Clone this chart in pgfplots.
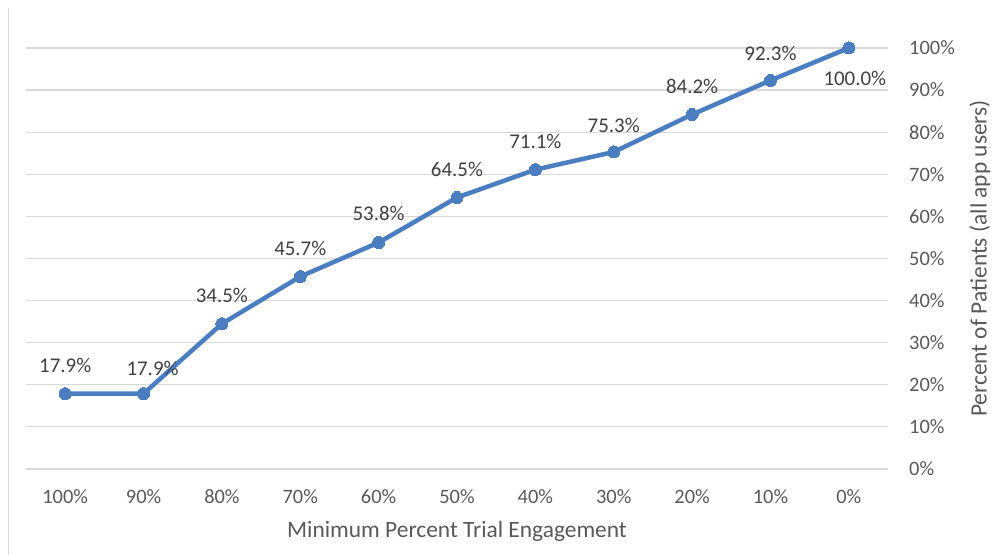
\documentclass[border=0pt]{standalone}
\usepackage{pgfplots}
\pgfplotsset{compat=1.18}
\usepackage{pgfplotstable}
\usepackage{fontspec}
\setmainfont{Carlito}
\definecolor{lineblue}{RGB}{74,126,193}
\definecolor{gridgray}{RGB}{217,217,217}
\definecolor{ticktext}{RGB}{89,89,89}
\definecolor{labeltext}{RGB}{64,64,64}
\pgfplotstableread{
x y lx ly
0 17.9 0 28
1 17.9 9 25
2 34.5 0 28
3 45.7 0 28
4 53.8 0 29
5 64.5 0 28
6 71.1 0 28
7 75.3 0 27
8 84.2 0 28
9 92.3 0 27
10 100.0 6 -30
}\datatable
\begin{document}
\begin{tikzpicture}[x=1bp,y=1bp]
\useasboundingbox (0,0) rectangle (992,555);
\draw[gridgray, line width=1bp] (8,0) -- (8,547);
\begin{axis}[
  at={(26bp,86bp)}, anchor=south west,
  scale only axis, width=862bp, height=421bp,
  xmin=-0.5, xmax=10.5, ymin=0, ymax=100,
  /pgf/number format/assume math mode=true,
  xtick={0,...,10},
  xticklabels={100\%,90\%,80\%,70\%,60\%,50\%,40\%,30\%,20\%,10\%,0\%},
  ytick={0,10,...,100},
  yticklabel={\pgfmathprintnumber{\tick}\%},
  yticklabel pos=right,
  ymajorgrids, grid style={gridgray, line width=1.2bp},
  axis line style={draw=none}, major tick length=0pt,
  tick label style={font=\fontsize{20.5}{24}\selectfont, text=ticktext},
  yticklabel style={anchor=west, inner sep=0pt, xshift=21bp},
  xticklabel style={anchor=center, inner sep=0pt, yshift=-28bp},
  xlabel={Minimum Percent Trial Engagement},
  xlabel style={at={(axis description cs:0.5,-0.1473)}, anchor=center, font=\fontsize{23.5}{28}\selectfont, text=ticktext},
  ylabel={Percent of Patients (all app users)},
  ylabel style={at={(axis description cs:1.1067,0.5)}, anchor=center, font=\fontsize{23.5}{28}\selectfont, text=ticktext},
  clip=false,
]
\addplot[lineblue, line width=4.5bp, mark=*, mark size=6bp,
  mark options={fill=lineblue, draw=lineblue, line width=0pt},
  point meta=y,
  visualization depends on={\thisrow{lx} \as \lx},
  visualization depends on={\thisrow{ly} \as \ly},
  nodes near coords={\pgfmathprintnumber[fixed, fixed zerofill, precision=1, assume math mode=true]{\pgfplotspointmeta}\%},
  nodes near coords style={font=\fontsize{21}{25}\selectfont, text=labeltext, anchor=center, inner sep=0pt, xshift=\lx bp, yshift=\ly bp},
] table[x=x, y=y] {\datatable};
\end{axis}
\end{tikzpicture}
\end{document}
